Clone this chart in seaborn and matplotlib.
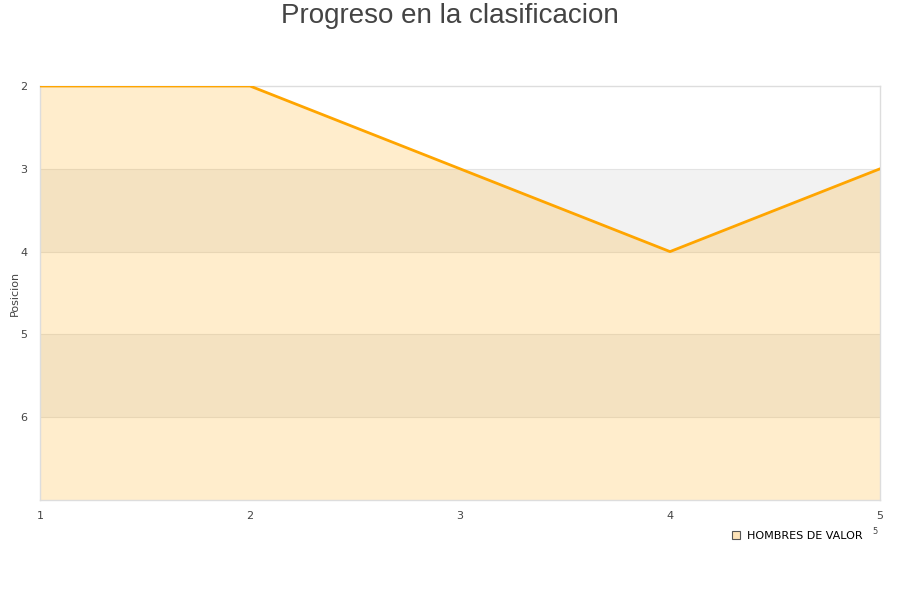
import matplotlib
matplotlib.use("Agg")
import matplotlib.pyplot as plt
import pandas as pd
import seaborn as sns
from matplotlib.lines import Line2D

# ---------------------------------------------------------------------------
# Data
# ---------------------------------------------------------------------------
jornadas = [1, 2, 3, 4, 5]
posiciones = [2, 2, 3, 4, 3]
equipo = "HOMBRES DE VALOR"
y_ticks = [2, 3, 4, 5, 6]
y_min, y_max = 2, 7

df = pd.DataFrame({"jornada": jornadas, "posicion": posiciones})

sns.set_style("white")
plt.rcParams["font.family"] = ["DejaVu Sans"]

fig = plt.figure(figsize=(9, 6), dpi=100)
ax = fig.add_axes([40 / 900, 1 - 500 / 600, 840 / 900, 414 / 600])

# alternating bands
for lo in range(y_min, y_max):
    if lo % 2 == 1:
        ax.axhspan(lo, lo + 1, color="#f2f2f2", zorder=0, lw=0)
for t in y_ticks[1:]:
    ax.axhline(t, color="#e3e3e3", lw=0.8, zorder=1)

# area under the line (towards the bottom of the inverted axis)
ax.fill_between(df["jornada"], df["posicion"], y_max,
                color="#FFA500", alpha=0.2, lw=0, zorder=2)
sns.lineplot(data=df, x="jornada", y="posicion", color="#FFA500",
             lw=2, ax=ax, zorder=3)

ax.set_xlim(1, 5)
ax.set_ylim(y_max, y_min)
ax.set_xticks(jornadas)
ax.set_yticks(y_ticks)
ax.tick_params(axis="both", length=0, labelsize=8, colors="#444444")
ax.tick_params(axis="x", pad=8)
ax.tick_params(axis="y", pad=9)
ax.set_xlabel("")
ax.set_ylabel("Posicion", fontsize=8, color="#444444")
ax.yaxis.set_label_coords(-20 / 840, 0.5)
for s in ax.spines.values():
    s.set_color("#dddddd")
    s.set_linewidth(1)

fig.suptitle("Progreso en la clasificacion", fontsize=20, color="#444444",
             family="Liberation Sans", y=1 - 16 / 600, va="center")

handle = Line2D([], [], marker="s", ls="", markersize=6,
                markerfacecolor="#fde3b8", markeredgecolor="#555555",
                markeredgewidth=0.8)
fig.legend([handle], [equipo], loc="center left", frameon=False,
           bbox_to_anchor=(724 / 900, 1 - 536 / 600), fontsize=8,
           handletextpad=0.4, borderpad=0, handlelength=1.2,
           labelcolor="black")
fig.text(875 / 900, 1 - 532 / 600, "5", fontsize=6, color="#444444",
         ha="center", va="center")

fig.savefig("out.png", dpi=100)
